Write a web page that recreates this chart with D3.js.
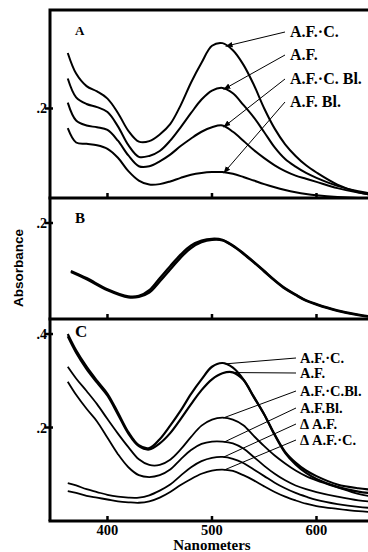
<!DOCTYPE html>
<html>
<head>
<meta charset="utf-8">
<script src="https://cdn.jsdelivr.net/npm/d3@7"></script>
<style>
  body { margin: 0; background: #fff; }
  svg { display: block; }
</style>
</head>
<body>
<div id="container"></div>
<script>
var width = 368;
var height = 552;

// wavelengths (nm) for panels A and C
var wlA = [362, 370, 380, 390, 400, 410, 420, 430, 440, 450, 460, 470, 480, 490, 500, 510, 520, 530, 540, 550, 560, 570, 580, 590, 600, 620, 640, 660];
var wlB = [365, 380, 400, 420, 430, 440, 450, 460, 470, 480, 490, 500, 510, 520, 530, 540, 550, 560, 570, 580, 590, 600, 620, 640, 660];
var wlC = wlA;

// Panel A absorbances
var aAFC   = [0.324, 0.278, 0.250, 0.238, 0.222, 0.190, 0.150, 0.126, 0.127, 0.142, 0.165, 0.207, 0.258, 0.302, 0.340, 0.346, 0.330, 0.298, 0.253, 0.200, 0.155, 0.120, 0.094, 0.073, 0.057, 0.030, 0.013, 0.005];
var aAF    = [0.267, 0.225, 0.210, 0.203, 0.192, 0.160, 0.118, 0.092, 0.094, 0.105, 0.128, 0.158, 0.190, 0.220, 0.240, 0.246, 0.234, 0.208, 0.180, 0.147, 0.113, 0.087, 0.070, 0.056, 0.045, 0.027, 0.015, 0.007];
var aAFCBl = [0.213, 0.173, 0.162, 0.158, 0.152, 0.128, 0.095, 0.071, 0.071, 0.082, 0.097, 0.116, 0.133, 0.148, 0.158, 0.162, 0.148, 0.128, 0.107, 0.089, 0.073, 0.060, 0.050, 0.043, 0.036, 0.022, 0.012, 0.005];
var aAFBl  = [0.156, 0.124, 0.121, 0.118, 0.110, 0.090, 0.060, 0.039, 0.030, 0.031, 0.037, 0.045, 0.052, 0.056, 0.058, 0.058, 0.054, 0.047, 0.039, 0.031, 0.024, 0.018, 0.013, 0.009, 0.006, 0.002, 0.000, 0.000];

// Panel B absorbances (two nearly superimposed traces)
var b1 = [0.098, 0.083, 0.060, 0.045, 0.046, 0.055, 0.078, 0.103, 0.128, 0.148, 0.160, 0.165, 0.164, 0.152, 0.136, 0.118, 0.099, 0.080, 0.063, 0.050, 0.038, 0.030, 0.017, 0.008, 0.002];
var b2 = [0.100, 0.085, 0.062, 0.047, 0.048, 0.060, 0.085, 0.110, 0.134, 0.153, 0.163, 0.167, 0.165, 0.153, 0.137, 0.119, 0.100, 0.081, 0.064, 0.051, 0.039, 0.031, 0.018, 0.009, 0.003];

// Panel C absorbances
var cAFC   = [0.400, 0.365, 0.330, 0.300, 0.272, 0.232, 0.190, 0.162, 0.156, 0.175, 0.204, 0.236, 0.272, 0.303, 0.330, 0.338, 0.328, 0.303, 0.265, 0.228, 0.185, 0.148, 0.125, 0.108, 0.096, 0.078, 0.070, 0.066];
var cAF    = [0.395, 0.360, 0.325, 0.296, 0.268, 0.228, 0.187, 0.160, 0.153, 0.166, 0.188, 0.218, 0.250, 0.280, 0.303, 0.316, 0.318, 0.302, 0.266, 0.228, 0.184, 0.146, 0.121, 0.103, 0.090, 0.073, 0.063, 0.058];
var cAFCBl = [0.330, 0.305, 0.278, 0.250, 0.218, 0.187, 0.158, 0.132, 0.120, 0.120, 0.131, 0.153, 0.180, 0.204, 0.217, 0.221, 0.217, 0.205, 0.182, 0.160, 0.140, 0.123, 0.108, 0.096, 0.087, 0.072, 0.058, 0.050];
var cAFBl  = [0.298, 0.270, 0.240, 0.213, 0.178, 0.143, 0.115, 0.098, 0.094, 0.098, 0.110, 0.132, 0.152, 0.165, 0.170, 0.170, 0.166, 0.155, 0.137, 0.118, 0.101, 0.087, 0.076, 0.068, 0.062, 0.052, 0.044, 0.040];
var cDAF   = [0.081, 0.076, 0.068, 0.062, 0.056, 0.052, 0.050, 0.050, 0.055, 0.065, 0.078, 0.097, 0.115, 0.128, 0.135, 0.137, 0.133, 0.124, 0.110, 0.096, 0.082, 0.070, 0.060, 0.052, 0.045, 0.036, 0.030, 0.027];
var cDAFC  = [0.064, 0.060, 0.054, 0.050, 0.046, 0.042, 0.040, 0.039, 0.042, 0.050, 0.062, 0.077, 0.090, 0.101, 0.108, 0.110, 0.107, 0.098, 0.087, 0.074, 0.062, 0.052, 0.044, 0.037, 0.032, 0.026, 0.021, 0.018];

var labelsA = ["A.F.\u00B7C.", "A.F.", "A.F.\u00B7C. Bl.", "A.F. Bl."];
var labelsC = ["A.F.\u00B7C.", "A.F.", "A.F.\u00B7C.Bl.", "A.F.Bl.", "\u0394 A.F.", "\u0394 A.F.\u00B7C."];
var anchorA = [513, 511, 511, 511];      // wavelength where each leader meets its curve
var anchorC = [512, 518, 511, 512, 511, 512];
var xTicks = [400, 500, 600];

var serif = "'Liberation Serif', 'Times New Roman', serif";

var svg = d3.select("#container")
    .append("svg")
    .attr("width", width)
    .attr("height", height);

svg.append("defs").append("marker")
    .attr("id", "arrow")
    .attr("viewBox", "0 0 10 10")
    .attr("refX", 10)
    .attr("refY", 5)
    .attr("markerWidth", 7)
    .attr("markerHeight", 7)
    .attr("markerUnits", "userSpaceOnUse")
    .attr("orient", "auto")
    .append("path")
    .attr("d", "M0,1 L10,5 L0,9 Z")
    .attr("fill", "#000");

var x = d3.scaleLinear().domain([345, 700]).range([50, 421]);

var yA = d3.scaleLinear().domain([0, 0.42]).range([198, 10]);
var yB = d3.scaleLinear().domain([0, 0.25]).range([319, 199]);
var yC = d3.scaleLinear().domain([0, 0.43]).range([521, 320]);

function drawCurve(wl, vals, y, sw) {
    var line = d3.line()
        .x(function (d, i) { return x(wl[i]); })
        .y(function (d) { return y(d); })
        .curve(d3.curveCatmullRom.alpha(0.5));
    svg.append("path")
        .datum(vals)
        .attr("d", line)
        .attr("fill", "none")
        .attr("stroke", "#000")
        .attr("stroke-width", sw)
        .attr("stroke-linejoin", "round");
}

function valueAt(wl, vals, w) {
    var i = d3.bisectLeft(wl, w);
    if (i <= 0) return vals[0];
    var t = (w - wl[i - 1]) / (wl[i] - wl[i - 1]);
    return vals[i - 1] + t * (vals[i] - vals[i - 1]);
}

// curves
[aAFC, aAF, aAFCBl, aAFBl].forEach(function (s) { drawCurve(wlA, s, yA, 2); });
drawCurve(wlB, b1, yB, 2.4);
drawCurve(wlB, b2, yB, 2.4);
drawCurve(wlC, cAFC, yC, 2.2);
drawCurve(wlC, cAF, yC, 2.2);
[cAFCBl, cAFBl, cDAF, cDAFC].forEach(function (s) { drawCurve(wlC, s, yC, 1.8); });

// frame
var frame = svg.append("g").attr("stroke", "#000").attr("stroke-width", 3).attr("fill", "none");
frame.append("path").attr("d", "M" + 50 + "," + 521 + "V" + 10 + "H" + 380);
[yA(0), yB(0), yC(0)].forEach(function (yy) {
    frame.append("line").attr("x1", 48.5).attr("x2", 380).attr("y1", yy).attr("y2", yy);
});

// x ticks (inside, on each panel floor)
[yA(0), yB(0), yC(0)].forEach(function (yy) {
    svg.selectAll(null)
        .data(xTicks)
        .enter()
        .append("line")
        .attr("x1", function (d) { return x(d); })
        .attr("x2", function (d) { return x(d); })
        .attr("y1", yy)
        .attr("y2", yy - 5)
        .attr("stroke", "#000")
        .attr("stroke-width", 2.5);
});

svg.selectAll(null)
    .data(xTicks)
    .enter()
    .append("text")
    .attr("x", function (d) { return x(d); })
    .attr("y", 535)
    .attr("text-anchor", "middle")
    .attr("font-family", serif)
    .attr("font-weight", "bold")
    .attr("font-size", "14.5px")
    .text(function (d) { return d; });

svg.append("text")
    .attr("x", x(500))
    .attr("y", 550)
    .attr("text-anchor", "middle")
    .attr("font-family", serif)
    .attr("font-weight", "bold")
    .attr("font-size", "15px")
    .text("Nanometers");

// y ticks
var yTicks = [[yA, 0.2], [yB, 0.2], [yC, 0.4], [yC, 0.2]];
yTicks.forEach(function (t) {
    var yy = t[0](t[1]);
    svg.append("line")
        .attr("x1", 45).attr("x2", 53)
        .attr("y1", yy).attr("y2", yy)
        .attr("stroke", "#000").attr("stroke-width", 2.5);
    svg.append("text")
        .attr("x", 47)
        .attr("y", yy + 5)
        .attr("text-anchor", "end")
        .attr("font-family", serif)
        .attr("font-weight", "bold")
        .attr("font-size", "14px")
        .text(String(t[1]).replace("0.", "."));
});

svg.append("text")
    .attr("transform", "rotate(-90)")
    .attr("x", -268)
    .attr("y", 23)
    .attr("text-anchor", "middle")
    .attr("font-family", "'Liberation Sans', Arial, sans-serif")
    .attr("font-weight", "bold")
    .attr("font-size", "13.5px")
    .text("Absorbance");

// panel letters
[["A", 35, 13], ["B", 223, 15], ["C", 337, 17]].forEach(function (p) {
    svg.append("text")
        .attr("x", 75)
        .attr("y", p[1])
        .attr("font-family", serif)
        .attr("font-weight", "bold")
        .attr("font-size", p[2] + "px")
        .text(p[0]);
});

// panel A labels with arrows
var seriesA = [aAFC, aAF, aAFCBl, aAFBl];
var baseA = [37, 60, 84, 107];
labelsA.forEach(function (lab, i) {
    var w = anchorA[i];
    svg.append("line")
        .attr("x1", 285).attr("y1", baseA[i] - 5)
        .attr("x2", x(w)).attr("y2", yA(valueAt(wlA, seriesA[i], w)) + 1)
        .attr("stroke", "#000").attr("stroke-width", 1)
        .attr("marker-end", "url(#arrow)");
    svg.append("text")
        .attr("x", 290).attr("y", baseA[i])
        .attr("font-family", serif)
        .attr("font-weight", "bold")
        .attr("font-size", "16px")
        .text(lab);
});

// panel C labels with leader lines
var seriesC = [cAFC, cAF, cAFCBl, cAFBl, cDAF, cDAFC];
var baseC = [363, 378, 396, 413, 429, 445];
labelsC.forEach(function (lab, i) {
    var w = anchorC[i];
    svg.append("line")
        .attr("x1", 296).attr("y1", baseC[i] - 5)
        .attr("x2", x(w)).attr("y2", yC(valueAt(wlC, seriesC[i], w)))
        .attr("stroke", "#000").attr("stroke-width", 1);
    svg.append("text")
        .attr("x", 300).attr("y", baseC[i])
        .attr("font-family", serif)
        .attr("font-weight", "bold")
        .attr("font-size", "14.5px")
        .text(lab);
});
</script>
</body>
</html>
